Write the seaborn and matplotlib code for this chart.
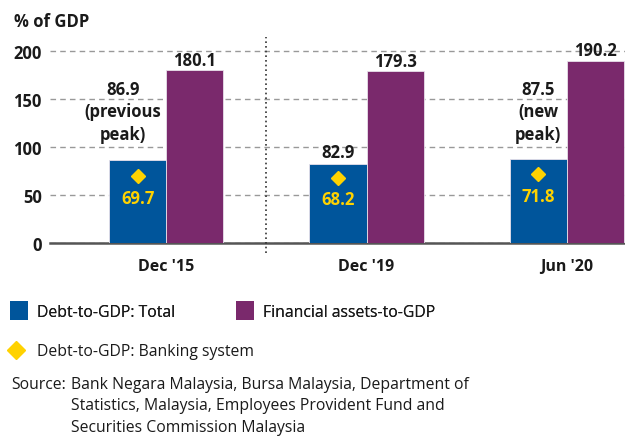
import matplotlib
matplotlib.use("Agg")
import matplotlib.pyplot as plt
import seaborn as sns
import pandas as pd
from matplotlib.lines import Line2D
from matplotlib.patches import Patch

categories = ["Dec '15", "Dec '19", "Jun '20"]
debt_total = [86.9, 82.9, 87.5]
fin_assets = [180.1, 179.3, 190.2]
debt_banking = [69.7, 68.2, 71.8]
debt_labels = ["86.9\n(previous\npeak)", "82.9", "87.5\n(new\npeak)"]
series_names = ["Debt-to-GDP: Total", "Financial assets-to-GDP"]
banking_name = "Debt-to-GDP: Banking system"
yticks = [0, 50, 100, 150, 200]
source_lines = ["Bank Negara Malaysia, Bursa Malaysia, Department of",
                "Statistics, Malaysia, Employees Provident Fund and",
                "Securities Commission Malaysia"]

BLUE = "#00559B"
PURPLE = "#7A296C"
YELLOW = "#FFD200"
TXT = "#1a1a1a"
FS_B = 12
FS_R = 11.3

sns.set_theme(style="white")
plt.rcParams["font.family"] = ["Open Sans", "DejaVu Sans"]
BOLD = dict(fontweight="bold", family=["Open Sans", "DejaVu Sans"])

df = pd.DataFrame({
    "cat": categories * 2,
    "series": [series_names[0]] * 3 + [series_names[1]] * 3,
    "value": debt_total + fin_assets,
})

fig = plt.figure(figsize=(6.25, 4.39), dpi=100)
ax = fig.add_axes([50/625, 1 - 244/439, 1 - 50/625, 206/439])

sns.barplot(data=df, x="cat", y="value", hue="series", order=categories,
            hue_order=series_names, palette=[BLUE, PURPLE], width=0.57,
            saturation=1, edgecolor="#e8e0ea", linewidth=0.6, ax=ax,
            legend=False, zorder=3)

ax.set_xlim(-0.58, 2.29)
ax.set_ylim(0, 215)
ax.set_yticks(yticks)
ax.set_yticklabels([str(t) for t in yticks], fontsize=FS_B, color=TXT, **BOLD)
ax.yaxis.grid(True, linestyle=(0, (4, 3)), color="#999999", linewidth=1.0, zorder=0)
ax.xaxis.grid(False)
for s in ["top", "right", "left"]:
    ax.spines[s].set_visible(False)
ax.spines["bottom"].set_color("#555555")
ax.spines["bottom"].set_linewidth(1.8)
ax.tick_params(axis="y", length=0, pad=6)
ax.tick_params(axis="x", length=0, pad=11, labelcolor=TXT)
ax.set_xticks(range(len(categories)))
ax.set_xticklabels(categories, fontsize=11.5, **BOLD)
ax.set_xticks([-0.58, 1.5], minor=True)
ax.tick_params(axis="x", which="minor", length=4, width=1.5, color="#555555")
ax.set_xlabel("")
ax.set_ylabel("")

# dotted separator
ax.plot([0.5, 0.5], [-10, 215], linestyle=(0, (1.0, 1.8)), color="#333333",
        linewidth=1.2, clip_on=False, zorder=4)

blue_bars = ax.patches[:3]
purple_bars = ax.patches[3:6]

for i, p in enumerate(blue_bars):
    cx = p.get_x() + p.get_width() / 2
    ax.plot(cx, debt_banking[i], marker="D", markersize=7, color=YELLOW,
            linestyle="none", zorder=5)
    ax.text(cx, debt_banking[i] - 13, f"{debt_banking[i]:.1f}", ha="center",
            va="top", color=YELLOW, fontsize=FS_B, zorder=6, **BOLD)

ax.text(blue_bars[0].get_x() + blue_bars[0].get_width()/2 - 0.075, 104,
        debt_labels[0], ha="center", va="bottom", fontsize=FS_B,
        color=TXT, linespacing=1.35, **BOLD)
ax.text(blue_bars[1].get_x() + blue_bars[1].get_width()/2, debt_total[1] + 3,
        debt_labels[1], ha="center", va="bottom", fontsize=FS_B,
        color=TXT, **BOLD)
ax.text(blue_bars[2].get_x() + blue_bars[2].get_width()/2, 104,
        debt_labels[2], ha="center", va="bottom", fontsize=FS_B,
        color=TXT, linespacing=1.35, **BOLD)

for i, p in enumerate(purple_bars):
    cx = p.get_x() + p.get_width() / 2
    ax.text(cx, fin_assets[i] + 1.5, f"{fin_assets[i]:.1f}", ha="center",
            va="bottom", fontsize=FS_B, color=TXT, clip_on=False, **BOLD)

fig.text(14/625, 1 - 22/439, "% of GDP", ha="left", va="center",
         fontsize=FS_B, color=TXT, **BOLD)

h1 = [Patch(facecolor=BLUE, edgecolor="none"),
      Patch(facecolor=PURPLE, edgecolor="none")]
leg1 = fig.legend(h1, series_names, ncol=2, loc="center left",
                  bbox_to_anchor=(10/625, 1 - 311.5/439), frameon=False,
                  fontsize=FS_R, handlelength=1.15, handleheight=1.47,
                  handletextpad=0.57, columnspacing=3.9, borderpad=0,
                  borderaxespad=0, labelcolor=TXT)
fig.add_artist(leg1)
h2 = [Line2D([], [], marker="D", markersize=9, color=YELLOW, linestyle="none")]
fig.legend(h2, [banking_name], loc="center left",
           bbox_to_anchor=(6.5/625, 1 - 352/439), frameon=False,
           fontsize=FS_R, handlelength=1.15, handletextpad=0.8, borderpad=0,
           borderaxespad=0, labelcolor=TXT)

fig.text(11/625, 1 - 385/439, "Source:", ha="left", va="center",
         fontsize=FS_R, color=TXT)
for k, line in enumerate(source_lines):
    fig.text(71/625, 1 - (385 + 21.5*k)/439, line, ha="left", va="center",
             fontsize=FS_R, color=TXT)

fig.savefig("out.png", dpi=100)
